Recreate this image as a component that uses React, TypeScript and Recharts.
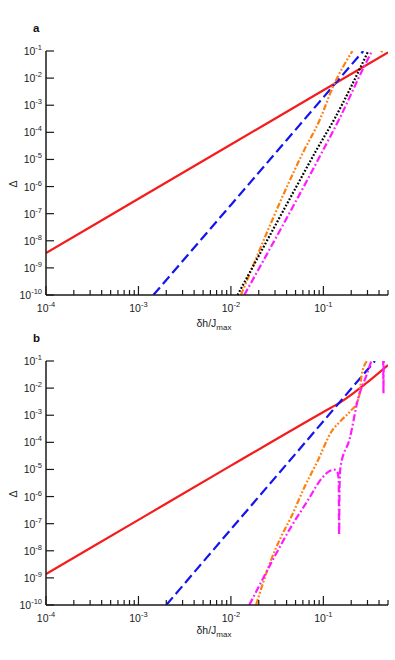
import { LineChart, Line, XAxis, YAxis } from "recharts";

const FONT = "'Liberation Sans', Arial, Helvetica, sans-serif";

// axis ticks
const xTicks = [
  1e-4, 2e-4, 3e-4, 4e-4, 5e-4, 6e-4, 7e-4, 8e-4, 9e-4,
  1e-3, 2e-3, 3e-3, 4e-3, 5e-3, 6e-3, 7e-3, 8e-3, 9e-3,
  1e-2, 2e-2, 3e-2, 4e-2, 5e-2, 6e-2, 7e-2, 8e-2, 9e-2,
  1e-1, 0.2, 0.3, 0.4, 0.5,
];
const yTicks = [1e-10, 1e-9, 1e-8, 1e-7, 1e-6, 1e-5, 1e-4, 1e-3, 1e-2, 1e-1];

// panel a
const redAx = [1e-4, 1e-3, 1e-2, 0.1, 0.5];
const redAy = [3.55e-9, 3.55e-7, 3.55e-5, 3.55e-3, 8.9e-2];
const blueAx = [1.45e-3, 1e-2, 0.1, 0.27];
const blueAy = [1e-10, 2.1e-7, 1.95e-3, 1e-1];
const blackAx = [0.0118, 0.05, 0.084, 0.133, 0.306];
const blackAy = [1e-10, 8.7e-7, 2.2e-5, 3.3e-4, 1e-1];
const orangeAx = [0.01285, 0.062, 0.091, 0.127, 0.206];
const orangeAy = [1e-10, 2.2e-5, 2.8e-4, 4.8e-3, 1e-1];
const orangeA2x = [0.42, 0.427, 0.434];
const orangeA2y = [0.3, 0.085, 0.3];
const magentaAx = [0.01396, 0.0993, 0.15, 0.27, 0.336];
const magentaAy = [1e-10, 2.2e-5, 3.3e-4, 2.3e-2, 1e-1];

// panel b
const redBx = [1e-4, 1e-3, 1e-2, 0.1, 0.157, 0.306, 0.5];
const redBy = [1.38e-9, 1.38e-7, 1.38e-5, 1.32e-3, 3.16e-3, 1.74e-2, 7.1e-2];
const blueBx = [0.002, 0.01, 0.1, 0.361];
const blueBy = [1e-10, 6.2e-8, 6.0e-4, 1e-1];
const orangeBx = [0.0187, 0.0272, 0.0349, 0.0449, 0.0627, 0.0875, 0.122, 0.157, 0.201, 0.229, 0.248, 0.259, 0.296];
const orangeBy = [1e-10, 4.6e-9, 3.3e-8, 1.78e-7, 2.3e-6, 2.2e-5, 2.45e-4, 6.6e-4, 1.55e-3, 2.75e-3, 7.4e-3, 3.0e-2, 1e-1];
const magentaBx = [0.0158, 0.0296, 0.0449, 0.0682, 0.095, 0.115, 0.132, 0.141, 0.1466, 0.148, 0.1495, 0.153, 0.193, 0.238, 0.293, 0.333];
const magentaBy = [1e-10, 6.0e-9, 7.8e-8, 7.4e-7, 4.5e-6, 8.5e-6, 9.8e-6, 8.5e-6, 4.1e-6, 3.8e-8, 2.0e-6, 1.2e-5, 1.4e-4, 4.2e-3, 3.0e-2, 0.11];
const magentaB2x = [0.44, 0.445, 0.4465, 0.448, 0.453];
const magentaB2y = [0.4, 0.03, 6.5e-3, 0.03, 0.4];

const pts = (xs: number[], ys: number[]) => xs.map((x, i) => ({ x, y: ys[i] }));

const AXIS = "#1a1a1a";

function XTick(props: any) {
  const { x, y, payload } = props;
  const lg = Math.log10(payload.value);
  const exp = Math.round(lg);
  const major = Math.abs(lg - exp) < 1e-6;
  return (
    <g>
      <line x1={x} x2={x} y1={y} y2={y - (major ? 9 : 5)} stroke={AXIS} strokeWidth={1.2} />
      {major && (
        <text x={x} y={y + 17} textAnchor="middle" fontFamily={FONT} fontSize={10.5} fill="#222">
          <tspan>10</tspan>
          <tspan dy={-5} fontSize={7.5}>{exp}</tspan>
        </text>
      )}
    </g>
  );
}

function YTick(props: any) {
  const { x, y, payload } = props;
  const exp = Math.round(Math.log10(payload.value));
  return (
    <g>
      <line x1={x} x2={x + 8} y1={y} y2={y} stroke={AXIS} strokeWidth={1.2} />
      <text x={x - 4} y={y + 4} textAnchor="end" fontFamily={FONT} fontSize={10.5} fill="#222">
        <tspan>10</tspan>
        <tspan dy={-5} fontSize={7.5}>{exp}</tspan>
      </text>
    </g>
  );
}

const RED = "#f41c1c";
const BLUE = "#1414f0";
const ORANGE = "#ff7f0e";
const MAGENTA = "#ff1aff";

function Panel({ children }: { children: any }) {
  return (
    <LineChart width={395} height={330} margin={{ top: 51, right: 7, bottom: 0, left: 0 }}>
      <XAxis
        dataKey="x"
        type="number"
        scale="log"
        domain={[1e-4, 0.5]}
        allowDataOverflow
        ticks={xTicks}
        interval={0}
        tick={(p: any) => <XTick {...p} />}
        tickLine={false}
        tickSize={0}
        tickMargin={0}
        height={35}
        axisLine={{ stroke: AXIS, strokeWidth: 1.5 }}
      />
      <YAxis
        dataKey="y"
        type="number"
        scale="log"
        domain={[1e-10, 1e-1]}
        allowDataOverflow
        ticks={yTicks}
        interval={0}
        tick={(p: any) => <YTick {...p} />}
        tickLine={false}
        tickSize={0}
        tickMargin={0}
        width={46}
        axisLine={{ stroke: AXIS, strokeWidth: 1.5 }}
      />
      {children}
    </LineChart>
  );
}

function series(key: string, data: any[], stroke: string, dash?: string) {
  return (
    <Line
      key={key}
      data={data}
      dataKey="y"
      type="monotone"
      stroke={stroke}
      strokeWidth={2.2}
      strokeDasharray={dash}
      dot={false}
      activeDot={false}
      isAnimationActive={false}
    />
  );
}

const DASH = "10 4.5";
const DOT = "1.8 1.8";
const DASHDOTDOT = "6 2 1.8 2 1.8 2";
const DASHDOT = "7 2.5 1.8 2.5";

function XLabel({ y }: { y: number }) {
  return (
    <text x={214} y={y} textAnchor="middle" fontFamily={FONT} fontSize={10.5} fill="#222">
      <tspan>δh/J</tspan>
      <tspan dy={3} fontSize={8}>max</tspan>
    </text>
  );
}

export default function App() {
  return (
    <div style={{ position: "absolute", left: 0, top: 0, width: 395, height: 660, background: "#fff" }}>
      <div style={{ position: "absolute", left: 0, top: 0 }}>
        <Panel>
          {series("redA", pts(redAx, redAy), RED)}
          {series("blueA", pts(blueAx, blueAy), BLUE, DASH)}
          {series("orangeA", pts(orangeAx, orangeAy), ORANGE, DASHDOTDOT)}
          {series("orangeA2", pts(orangeA2x, orangeA2y), ORANGE, DASHDOTDOT)}
          {series("blackA", pts(blackAx, blackAy), "#000", DOT)}
          {series("magentaA", pts(magentaAx, magentaAy), MAGENTA, DASHDOT)}
        </Panel>
      </div>
      <div style={{ position: "absolute", left: 0, top: 310 }}>
        <Panel>
          {series("redB", pts(redBx, redBy), RED)}
          {series("blueB", pts(blueBx, blueBy), BLUE, DASH)}
          {series("orangeB", pts(orangeBx, orangeBy), ORANGE, DASHDOTDOT)}
          {series("magentaB", pts(magentaBx, magentaBy), MAGENTA, DASHDOT)}
          {series("magentaB2", pts(magentaB2x, magentaB2y), MAGENTA, DASHDOT)}
        </Panel>
      </div>
      <svg
        width={395}
        height={660}
        style={{ position: "absolute", left: 0, top: 0, pointerEvents: "none" }}
      >
        <text x={33} y={32} fontFamily={FONT} fontSize={11.5} fontWeight="bold" fill="#111">a</text>
        <text x={33} y={342} fontFamily={FONT} fontSize={11.5} fontWeight="bold" fill="#111">b</text>
        <text x={17} y={184} transform="rotate(-90 17 184)" textAnchor="middle" fontFamily={FONT} fontSize={10.5} fill="#222">Δ</text>
        <text x={17} y={494} transform="rotate(-90 17 494)" textAnchor="middle" fontFamily={FONT} fontSize={10.5} fill="#222">Δ</text>
        <XLabel y={327} />
        <XLabel y={634} />
      </svg>
    </div>
  );
}
